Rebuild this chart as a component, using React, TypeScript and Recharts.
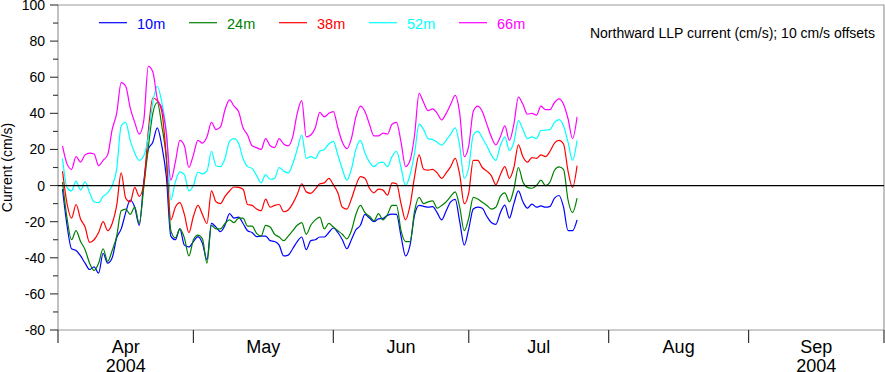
import React from 'react';
import { LineChart, Line, XAxis, YAxis, ReferenceLine, ReferenceArea, Legend } from 'recharts';

const FONT = '"Liberation Sans", Arial, Helvetica, sans-serif';

// day index counted from 1 April 2004 (day 0)
const days = Array.from({ length: 115 }, (_, i) => i + 1);

const depth10m = [
  -2, -22, -35, -36, -39, -43, -46.5, -45, -48.5, -37.5,
  -43, -40, -29, -24, -15, -8, -12, -22, 2, 20,
  24, 32, 22, 5, -28, -30, -24, -33, -34, -31,
  -28.3, -32, -41, -21, -23, -25.5, -22, -15.5, -18, -17.5,
  -21, -25, -26, -28.3, -28, -28, -30.5, -31, -33, -39,
  -38.5, -35, -31, -28.5, -35.5, -30.5, -30, -28.5, -28.5, -26,
  -23.5, -26, -30, -35, -30, -24.5, -22, -16, -18, -20,
  -18.5, -18.2, -16.5, -15.8, -16, -28, -39, -33, -16.3, -11,
  -11.5, -12, -11.7, -15, -19, -14, -9, -7.7, -20, -33,
  -24, -13, -12, -12.6, -17, -20.5, -21.5, -15, -10.8, -18,
  -10, -3, -9, -12.5, -10.3, -12, -11.3, -12, -11.5, -7,
  -5.5, -12, -25, -25, -19,
];

const depth24m = [
  2, -18, -30, -25, -31, -35.5, -43, -47, -43, -35,
  -42, -36, -28, -14, -13, -16, -12, -21, -1, 21,
  40, 46, 33, 15, -25, -29, -24, -29, -39, -30,
  -27.5, -29.5, -43, -22, -24, -24, -21, -19, -20.5, -18,
  -18, -22.5, -22.5, -26.5, -28, -22, -23, -27, -28.5, -30.5,
  -28, -25, -22, -20.5, -27, -22, -19, -17.5, -24, -21,
  -23, -25, -27, -29.5, -25, -16, -11, -15, -17, -19.5,
  -15.5, -19, -16, -11, -11, -25, -31, -31, -14, -6.5,
  -10, -9, -8.5, -12.5, -11, -9, -6, -3.5, -12, -25,
  -18, -6.5, -7.5, -9.3, -11, -13, -12, -6, -4, -9,
  -2, 10, 2, -1, -1.5, 0, 3, 0, 2, 8.5,
  10.4, 9, -8, -15, -7,
];

const depth38m = [
  8, -10, -18, -10.5, -18.5, -23, -31.5, -30, -26, -20,
  -25, -21, -11, 7, -7, -9, -1, -6, 1, 30,
  48.5, 47, 41, 16, -19, -12, -9.5, -16, -26, -17,
  -11, -16, -21, -3, -9, -10, -6, -3, -0.8, -1,
  -2, -10.5, -11, -13, -14, -7.5, -12, -11, -10.5, -14.5,
  -13.5, -10, -5, 1, -3.5, -4.3, -2, 1, 1.5, 4,
  0.5, -4, -12, -13, -7.5, 0, 5, 4, -1.5, -4,
  -2, -2.5, -5.3, 1.5, 1, -10, -19, -11, 5, 17,
  9, 8.5, 9, 7, 4, 7, 10.5, 15, 6, -10,
  -4, 14, 14, 10, 8, 5.5, 0.5, 6, 10.5, 4,
  10, 22.5, 16, 13, 15.5, 15, 17, 16, 19, 23.5,
  25, 23, 8, -1, 11,
];

const depth52m = [
  15, -1, -3, 2.5, -2.5, 2, -4, -9, -9.5, -6,
  -4, 0, 9, 33, 35, 25, 18, 14, 16.5, 27,
  46, 55, 46, 30, -8, 2, 7.6, 6, -3, 0,
  7.5, 6.5, 8, 19, 11, 10.5, 15, 24.5, 26, 23.5,
  15, 10.5, 9.5, 5.5, 1.5, 6, 3.5, 4, 10, 8,
  7, 12, 20, 28, 15, 16, 15, 19, 20, 23,
  24.5, 17, 9, 3, 9, 20, 25, 18, 13, 10.5,
  12.5, 13, 10.5, 16, 19, 10, 0, 6, 18, 34,
  31, 26, 25.5, 24, 22.4, 25, 28.5, 32, 22, 4,
  10, 28, 30, 26.5, 22, 17, 14, 22, 27, 19.5,
  24, 36, 31, 26, 27, 26, 30.5, 30.7, 31, 35,
  36.5, 33, 24, 14, 25,
];

const depth66m = [
  22, 12, 9, 16, 13, 17, 18, 17.5, 11, 14,
  17, 31, 40, 57, 55, 43, 35, 28.5, 36, 66,
  63, 48, 43, 29, 3, 13, 25, 22, 10, 17,
  25, 23.5, 27, 35, 31, 32.5, 42, 47.5, 44, 41,
  32, 28, 22, 21, 20, 26, 22, 21, 26, 23,
  22, 27, 40, 47, 27, 28, 32, 40.5, 38, 40,
  41, 32, 24, 20.5, 26, 38, 44, 41, 34, 27.5,
  27.5, 29, 28.5, 34, 35, 24, 10.5, 14, 28, 51,
  46, 41.5, 42.5, 40, 36.3, 40, 45, 50, 40, 16,
  22, 41, 44, 41, 34, 27, 22.5, 27, 33, 25,
  34, 49, 45, 39.5, 40, 39, 44, 42, 42, 46,
  48, 45, 37, 26, 38,
];

const seriesNames = ['10m', '24m', '38m', '52m', '66m'];
const seriesColors = ['#0000ff', '#008000', '#ff0000', '#00ffff', '#ff00ff'];
const seriesValues = [depth10m, depth24m, depth38m, depth52m, depth66m];

const monthStarts = [0, 30, 61, 91, 122, 153, 183];
const monthMids = [15, 45.5, 76, 106.5, 137.5, 168];
const monthLabels = ['Apr', 'May', 'Jun', 'Jul', 'Aug', 'Sep'];
const yearLabels = ['2004', '', '', '', '', '2004'];

const yMajor = [-80, -60, -40, -20, 0, 20, 40, 60, 80, 100];
const yMinor = [-70, -50, -30, -10, 10, 30, 50, 70, 90];

const titleText = 'Northward LLP current (cm/s); 10 cm/s offsets';
const yAxisTitle = 'Current (cm/s)';

const data = days.map((d, i) => {
  const row: Record<string, number> = { day: d };
  seriesValues.forEach((arr, k) => {
    row['s' + k] = arr[i];
  });
  return row;
});

const XTick = (props: any) => {
  const { x, y, payload } = props;
  const v = payload.value;
  if (monthStarts.indexOf(v) >= 0) {
    return <line x1={x} x2={x} y1={y} y2={y + 13} stroke="#333" strokeWidth={1.2} />;
  }
  const mi = monthMids.indexOf(v);
  if (mi < 0) return <g />;
  return (
    <text x={x} y={y + 23} textAnchor="middle" fontSize={18} fontFamily={FONT} fill="#000">
      <tspan x={x} dy={0}>{monthLabels[mi]}</tspan>
      {yearLabels[mi] ? <tspan x={x} dy={18.5}>{yearLabels[mi]}</tspan> : null}
    </text>
  );
};

const YTick = (props: any) => {
  const { x, y, payload } = props;
  const major = yMajor.indexOf(payload.value) >= 0;
  return (
    <g>
      <line x1={x - (major ? 8 : 5)} x2={x} y1={y} y2={y} stroke="#333" strokeWidth={1.1} />
      {major ? (
        <text x={x - 13} y={y} dy={5} textAnchor="end" fontSize={14} fontFamily={FONT} fill="#000">
          {payload.value}
        </text>
      ) : null}
    </g>
  );
};

const YTitle = (props: any) => {
  const vb = props.viewBox || { x: 0, y: 5, width: 58, height: 325 };
  const cx = vb.x + 12;
  const cy = vb.y + vb.height / 2;
  return (
    <text x={cx} y={cy} transform={`rotate(-90, ${cx}, ${cy})`} textAnchor="middle" fontSize={14} fontFamily={FONT} fill="#000">
      {yAxisTitle}
    </text>
  );
};

const LegendContent = () => (
  <svg width={885} height={50} style={{ display: 'block' }}>
    {seriesNames.map((n, i) => (
      <g key={n}>
        <line x1={99 + 90 * i} x2={127 + 90 * i} y1={22.7} y2={22.7} stroke={seriesColors[i]} strokeWidth={1.2} />
        <text x={137 + 90 * i} y={29.3} fontSize={14.5} fontFamily={FONT} fill={seriesColors[i]}>
          {n}
        </text>
      </g>
    ))}
    <text x={875} y={37.7} textAnchor="end" fontSize={14} fontFamily={FONT} fill="#000">
      {titleText}
    </text>
  </svg>
);

export default function App() {
  return (
    <div style={{ position: 'absolute', left: 0, top: 0, width: 885, height: 372, background: '#fff' }}>
      <LineChart width={885} height={372} data={data} margin={{ top: 5, right: 1, left: 0, bottom: 0 }} style={{ fontFamily: FONT }}>
        <XAxis
          dataKey="day"
          type="number"
          domain={[0, 183]}
          ticks={[...monthStarts, ...monthMids]}
          interval={0}
          height={42}
          tickSize={0}
          tickMargin={0}
          axisLine={false}
          tickLine={false}
          tick={<XTick />}
          allowDataOverflow
        />
        <YAxis
          type="number"
          domain={[-80, 100]}
          ticks={[...yMajor, ...yMinor].sort((a, b) => a - b)}
          interval={0}
          width={58}
          tickSize={0}
          tickMargin={0}
          axisLine={false}
          tickLine={false}
          tick={<YTick />}
          label={YTitle}
          allowDataOverflow
        />
        <ReferenceArea x1={0} x2={183} y1={-80} y2={100} fill="none" stroke="#999" strokeWidth={1.2} ifOverflow="visible" />
        {seriesNames.map((n, k) => (
          <Line
            key={n}
            dataKey={'s' + k}
            name={n}
            type="monotone"
            stroke={seriesColors[k]}
            strokeWidth={1.2}
            dot={false}
            activeDot={false}
            isAnimationActive={false}
          />
        ))}
        <ReferenceLine y={0} stroke="#000" strokeWidth={1.2} />
        <Legend
          layout="horizontal"
          verticalAlign="middle"
          align="center"
          content={<LegendContent />}
          wrapperStyle={{ top: 0, left: 0, width: 885, height: 50, pointerEvents: 'none' }}
        />
      </LineChart>
    </div>
  );
}
